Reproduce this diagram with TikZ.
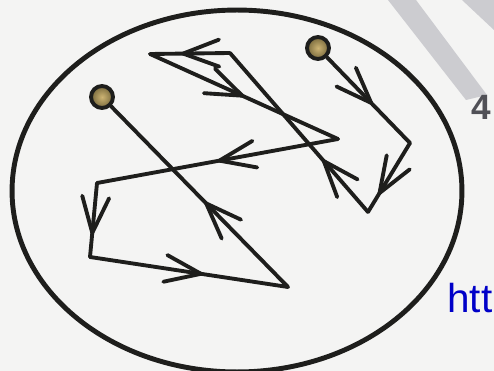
\documentclass[tikz,border=0pt]{standalone}
\usepackage{fontspec}
\newfontfamily\wmfont{Liberation Sans}
\usetikzlibrary{arrows.meta,decorations.markings}

\definecolor{paper}{RGB}{244,244,243}
\definecolor{inkline}{RGB}{30,30,28}
\definecolor{pinfill}{RGB}{120,105,60}
\definecolor{pincore}{RGB}{205,180,115}
\definecolor{wmgray}{RGB}{204,204,208}
\definecolor{pagegray}{RGB}{80,80,86}
\definecolor{urlblue}{RGB}{0,0,200}

\begin{document}
\begin{tikzpicture}[
    x=0.02cm, y=-0.02cm,
    % arrow tip used in the middle of each leg
    barb/.tip = {Straight Barb[length=7.2mm, width=5.4mm, round]},
    % lines
    ray/.style    = {line width=2.2pt, inkline, line cap=round, line join=round},
    flow/.style   = {ray, postaction={decorate},
                     decoration={markings, mark=at position #1 with {\arrow{barb}}}},
    rim/.style    = {line width=2.8pt, inkline},
    % the two pins
    pin/.style    = {circle, draw=inkline, line width=2.2pt, inner sep=0pt,
                     minimum size=0.44cm, shading=radial,
                     inner color=pincore, outer color=pinfill},
    % watermark bits
    pagenum/.style = {anchor=base west, inner sep=0pt, text=pagegray,
                      font=\wmfont\bfseries\fontsize{20}{24}\selectfont},
    urltext/.style = {anchor=base west, inner sep=0pt, text=urlblue,
                      font=\wmfont\fontsize{23}{28}\selectfont}
  ]

% ============================================================
% Paper and frame
% ============================================================
\fill[paper] (0,0) rectangle (494,371);
\useasboundingbox (0,0) rectangle (494,371);
\clip (0,0) rectangle (494,371);

% watermark strokes (top right)
\fill[wmgray] (388,0) -- (416,0) -- (487,95) -- (466,100) -- cycle;
\fill[wmgray] (462,0) -- (494,0) -- (494,30) -- cycle;

% the ring
\draw[rim] (237,191) ellipse [x radius=4.5cm, y radius=3.62cm];

% ============================================================
% Pins and corners of the path
% ============================================================
\node[pin] (pinB) at (318,48) {};
\node[pin] (pinA) at (102,97) {};

\coordinate (c1) at (410,143);
\coordinate (c2) at (368,212);
\coordinate (c3) at (230,53);
\coordinate (c4) at (150,54);
\coordinate (c5) at (338,139);
\coordinate (c6) at (97,183);
\coordinate (c7) at (90,257);
\coordinate (c8) at (288,287);

% legs, from pin B round to pin A
\draw[flow=0.55] (pinB) -- (c1);
\draw[flow=0.75] (c1) -- (c2);
\draw[flow=0.33] (c2) -- (c3);
\draw[flow=0.61] (c3) -- (c4);
\draw[flow=0.50] (c4) -- (c5);
\draw[flow=0.50] (c5) -- (c6);
\draw[flow=0.70] (c6) -- (c7);
\draw[flow=0.57] (c7) -- (c8);
\draw[flow=0.47] (c8) -- (pinA);

% ============================================================
% Cut-off texts at the right edge
% ============================================================
\node[pagenum] (pg) at (471,120) {4};
\node[urltext] (url) at (447,313) {htt};

\end{tikzpicture}
\end{document}
